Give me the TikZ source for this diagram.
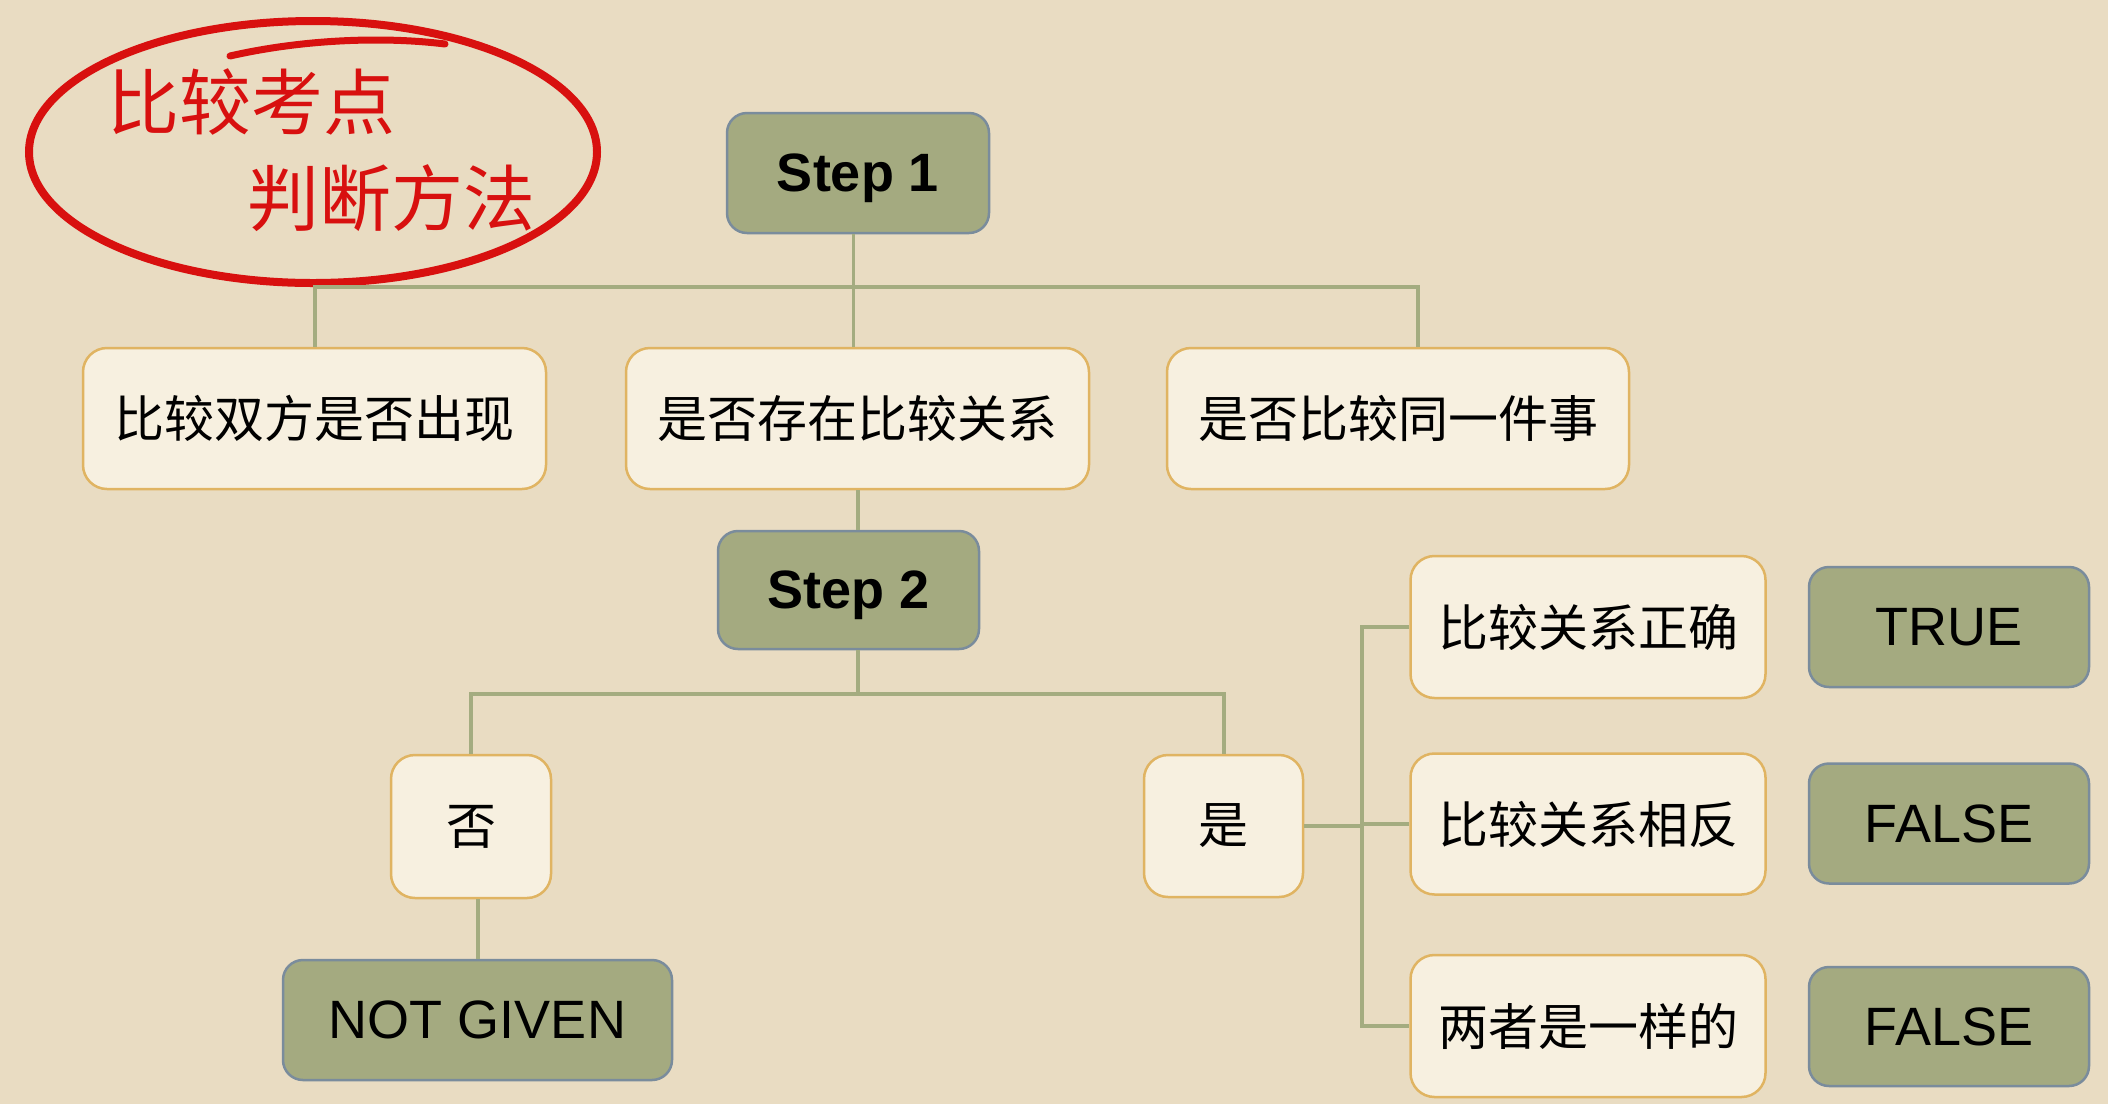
\documentclass[tikz,border=0pt]{standalone}
\usepackage{fontspec}
\setmainfont{Liberation Sans}
\newfontfamily\cjk{Noto Sans CJK SC}
\definecolor{bg}{HTML}{E9DCC2}
\definecolor{palefill}{HTML}{F7F0E0}
\definecolor{paleedge}{HTML}{E0B462}
\definecolor{olivefill}{HTML}{A4AA80}
\definecolor{oliveedge}{HTML}{7A8C9C}
\definecolor{linecol}{HTML}{A4AC80}
\definecolor{penred}{HTML}{D8100F}
\begin{document}
\begin{tikzpicture}[x=1pt,y=-1pt,
  size/.style n args={2}{minimum width=#1pt, minimum height=#2pt},
  pale/.style={draw=paleedge, fill=palefill, line width=2.5pt, rounded corners=24pt,
    inner sep=0pt, font=\cjk\fontsize{50}{50}\selectfont},
  olive/.style={draw=oliveedge, fill=olivefill, line width=2.5pt, rounded corners=20pt,
    inner sep=0pt, font=\fontsize{54}{54}\selectfont},
  stepbox/.style={olive, font=\bfseries\fontsize{54}{54}\selectfont, text depth=0pt},
  conn/.style={draw=linecol, line width=4pt},
  redpen/.style={draw=penred, line width=8pt, line cap=round},
  hand/.style={text=penred, inner sep=0pt, font=\cjk\fontsize{72}{72}\selectfont},
]
% background
\fill[bg] (0,0) rectangle (2108,1104);
\useasboundingbox (0,0) rectangle (2108,1104);

% red circled note
\draw[redpen] (313,152) ellipse [x radius=284pt, y radius=131pt];
\draw[redpen, line width=7pt] (230,56) .. controls (300,40) and (380,36) .. (445,44);
\node[hand] (h1) at (251,102) {比较考点};
\node[hand] (h2) at (391,198) {判断方法};

% step 1 and its three checks
\node[stepbox, size={262}{120}] (step1) at (858,173) {Step 1};
\node[pale, size={463}{141}] (b1) at (314.5,418.5) {比较双方是否出现};
\node[pale, size={463}{141}] (b2) at (857.5,418.5) {是否存在比较关系};
\node[pale, size={462}{141}] (b3) at (1398,418.5) {是否比较同一件事};

% step 2 and its branches
\node[stepbox, size={261}{118}] (step2) at (848.5,590) {Step 2};
\node[pale, size={160}{143}] (no) at (471,826.5) {否};
\node[olive, size={389}{120}] (ng) at (477.5,1020) {NOT GIVEN};
\node[pale, size={159}{142}] (yes) at (1223.5,826) {是};

\node[pale, size={355}{142}] (c1) at (1588,627) {比较关系正确};
\node[pale, size={355}{141}] (c2) at (1588,824) {比较关系相反};
\node[pale, size={355}{142}] (c3) at (1588,1026) {两者是一样的};

\node[olive, size={280}{120}] (r1) at (1949,627) {TRUE};
\node[olive, size={280}{120}] (r2) at (1949,823.5) {FALSE};
\node[olive, size={280}{119}] (r3) at (1949,1026.5) {FALSE};

% connectors
\coordinate (j1) at (853,287);
\coordinate (b3e) at ([xshift=20pt]b3.north);
\coordinate (j2) at (858,694);
\coordinate (trunk) at (1362,823);

\begin{scope}[on background layer/.try]
\draw[conn, line width=3pt] (step1.south -| j1) -- (b2.north -| j1);
\draw[conn] (b1.north) -- (b1.north |- j1) -- (j1 -| b3e) -- (b3e);
\draw[conn] (b2.south -| j2) -- (step2.north -| j2);
\draw[conn] (step2.south -| j2) -- (j2);
\draw[conn] (no.north) -- (no.north |- j2) -- (j2 -| yes.north) -- (yes.north);
\draw[conn] (ng.north) -- (ng.north |- no.south);
\draw[conn] (yes.east) -- (yes.east -| trunk);
\draw[conn] (c1.west) -- (c1.west -| trunk) -- (c3.west -| trunk) -- (c3.west);
\draw[conn] (c2.west) -- (c2.west -| trunk);
\end{scope}
\end{tikzpicture}
\end{document}
